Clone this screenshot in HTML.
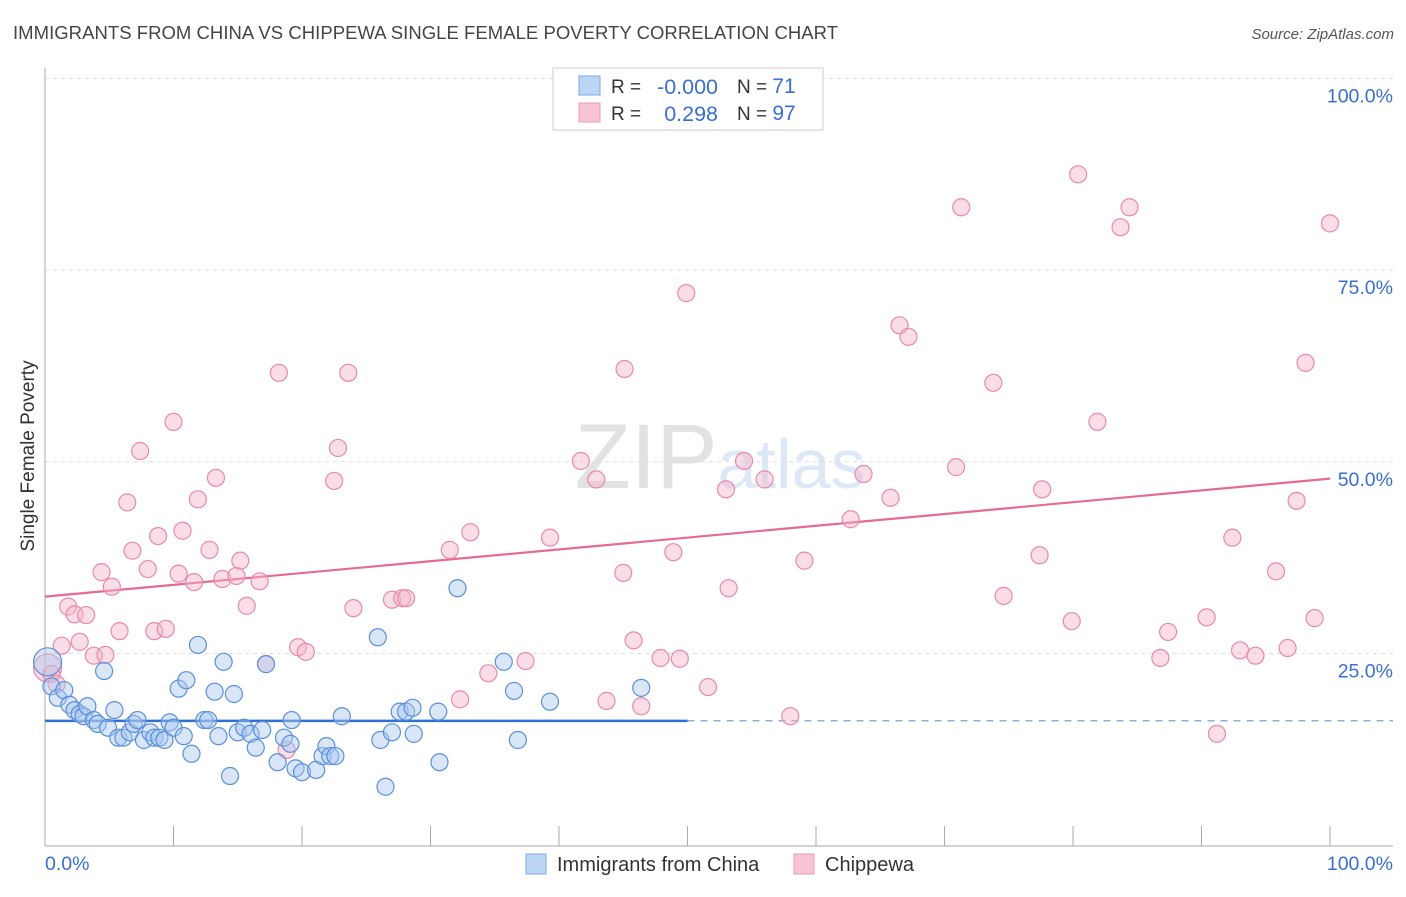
<!DOCTYPE html>
<html><head><meta charset="utf-8"><style>
body{margin:0;background:#fff;font-family:"Liberation Sans",sans-serif;}
svg text{font-family:"Liberation Sans",sans-serif;}
</style></head><body>
<svg id="chart" width="1406" height="892" xmlns="http://www.w3.org/2000/svg">
<text x="13" y="39" font-size="18.5" fill="#444" textLength="825">IMMIGRANTS FROM CHINA VS CHIPPEWA SINGLE FEMALE POVERTY CORRELATION CHART</text>
<text x="1394" y="39" font-size="15" fill="#555" text-anchor="end" font-style="italic">Source: ZipAtlas.com</text>
<text x="720" y="488" font-size="92" fill="#e4e4e4" text-anchor="middle" font-family="Liberation Serif"><tspan fill="#e2e2e2">ZIP</tspan><tspan fill="#dce8f6" font-family="Liberation Sans" font-size="70">atlas</tspan></text>
<g id="grid"></g>
<g id="axes"></g>
<g id="trend"></g>
<g id="pts"></g>
<text transform="translate(34,456) rotate(-90)" font-size="19" fill="#333" text-anchor="middle">Single Female Poverty</text>
<g>
<rect x="553" y="68" width="270" height="62" fill="#fff" stroke="#ccc"/>
<rect x="579" y="76" width="21" height="19" fill="#bcd5f5" stroke="#7aa7e3"/>
<rect x="579" y="103" width="21" height="19" fill="#f7c5d5" stroke="#ec9ab5"/>
<text x="611" y="93" font-size="19" fill="#333">R = </text>
<text x="718" y="94" font-size="21.5" fill="#3a6fd0" text-anchor="end">-0.000</text>
<text x="737" y="93" font-size="19" fill="#333">N = <tspan fill="#3a6fd0" font-size="21">71</tspan></text>
<text x="611" y="120" font-size="19" fill="#333">R = </text>
<text x="718" y="121" font-size="21.5" fill="#3a6fd0" text-anchor="end">0.298</text>
<text x="737" y="120" font-size="19" fill="#333">N = <tspan fill="#3a6fd0" font-size="21">97</tspan></text>
</g>
<g>
<rect x="526" y="854" width="20" height="20" fill="#bcd5f5" stroke="#7aa7e3"/>
<text x="557" y="871" font-size="20" fill="#333">Immigrants from China</text>
<rect x="794" y="854" width="20" height="20" fill="#f7c5d5" stroke="#ec9ab5"/>
<text x="825" y="871" font-size="20" fill="#333">Chippewa</text>
</g>
</svg>
<script>
const yTicks=[25,50,75,100];
const yTickLabels=["25.0%","50.0%","75.0%","100.0%"];
const xTickLabels=["0.0%","100.0%"];
const chinaX=[0.2,0.5,1.0,1.5,1.9,2.3,2.7,3.0,3.3,3.8,4.1,4.6,4.9,5.4,5.7,6.1,6.6,6.9,7.2,7.7,8.2,8.5,8.9,9.3,9.7,10.0,10.4,10.8,11.0,11.4,11.9,12.4,12.7,13.2,13.5,13.9,14.4,14.7,15.0,15.5,16.0,16.4,16.9,17.2,18.1,18.6,19.1,19.2,19.5,20.0,21.1,21.6,21.9,22.2,22.6,23.1,25.9,26.1,26.5,27.0,27.6,28.1,28.6,28.7,30.6,30.7,32.1,35.7,36.5,36.8,39.3,46.4];
const chinaY=[23.9,20.7,19.2,20.2,18.3,17.6,17.1,16.8,18.1,16.3,15.8,22.7,15.3,17.6,14.0,14.0,14.7,15.8,16.3,13.7,14.7,14.0,14.0,13.7,16.0,15.3,20.4,14.2,21.5,11.9,26.1,16.3,16.3,20.0,14.2,23.9,9.0,19.7,14.7,15.3,14.5,12.7,15.0,23.6,10.8,14.0,13.2,16.3,10.0,9.5,9.8,11.6,12.9,11.6,11.6,16.8,27.1,13.7,7.6,14.7,17.4,17.4,17.9,14.5,17.4,10.8,33.5,23.9,20.1,13.7,18.7,20.5];
const chipX=[0.2,0.5,0.9,1.3,1.8,2.3,2.7,3.2,3.8,4.4,4.7,5.2,5.8,6.4,6.8,7.4,8.0,8.5,8.8,9.4,10.0,10.4,10.7,11.6,11.9,12.8,13.3,13.8,14.9,15.2,15.7,16.7,17.2,18.2,18.8,19.7,20.3,22.5,22.8,23.6,24.0,27.0,27.8,28.1,31.5,32.3,33.1,34.5,37.4,39.3,41.7,42.9,43.7,45.0,45.1,45.8,46.4,47.9,48.9,49.4,49.9,51.6,53.0,53.2,54.4,56.0,58.0,59.1,62.7,63.7,65.8,66.5,67.2,70.9,71.3,73.8,74.6,77.4,77.6,79.9,80.4,81.9,83.7,84.4,86.8,87.4,90.4,91.2,92.4,93.0,94.2,95.8,96.7,97.4,98.1,98.8,100];
const chipY=[23.1,22.3,21.0,26.0,31.1,30.1,26.5,30.0,24.7,35.6,24.8,33.7,27.9,44.7,38.4,51.4,36.0,27.9,40.3,28.2,55.2,35.4,41.0,34.3,45.1,38.5,47.9,34.7,35.1,37.1,31.2,34.4,23.6,61.6,12.4,25.8,25.2,47.5,51.8,61.6,30.9,32.0,32.2,32.2,38.5,19.0,40.8,22.4,24.0,40.1,50.1,47.7,18.8,35.5,62.1,26.7,18.1,24.4,38.2,24.3,72.0,20.6,46.4,33.5,50.1,47.7,16.8,37.1,42.5,48.4,45.3,67.8,66.3,49.3,83.2,60.3,32.5,37.8,46.4,29.2,87.5,55.2,80.6,83.2,24.4,27.8,29.7,14.5,40.1,25.4,24.7,35.7,25.7,44.9,62.9,29.6,81.1];
const chinaTrend=[16.2,16.2];
const chipTrend=[32.4,47.8];
const NS="http://www.w3.org/2000/svg";
const sx=v=>45+v*12.85, sy=v=>845-v*7.665;
function mk(tag,attrs,parent){const e=document.createElementNS(NS,tag);for(const k in attrs)e.setAttribute(k,attrs[k]);document.getElementById(parent).appendChild(e);return e;}
yTicks.forEach((t,i)=>{
 const g=mk('line',{x1:45,x2:1393,y1:sy(t),y2:sy(t),stroke:'#ddd','stroke-dasharray':'4,4'},'grid');
 
 
 const l=mk('text',{x:1393,y:sy(t)+24,'font-size':19.5,fill:'#3a6fd0','text-anchor':'end'},'grid');
 l.textContent=yTickLabels[i];
 
 
});
const ax=mk('line',{x1:45,x2:45,y1:68,y2:846,stroke:'#aaa'},'axes');


const bx=mk('line',{x1:45,x2:1393,y1:846,y2:846,stroke:'#aaa'},'axes');


for(let i=0;i<=10;i++){const t=mk('line',{x1:sx(i*10),x2:sx(i*10),y1:826,y2:846,stroke:'#aaa'},'axes');
 
 }
[[0,'start',45],[100,'end',1393]].forEach((d,i)=>{const t=mk('text',{x:d[2],y:870,'font-size':19.5,fill:'#3a6fd0','text-anchor':d[1]},'axes');t.textContent=xTickLabels[i];
 
 });
function dots(X,Y,fill,stroke,name){X.forEach((x,i)=>{const c=mk('circle',{cx:sx(x),cy:sy(Y[i]),r:i==0?14:8.5,fill:fill,'fill-opacity':0.45,stroke:stroke,'stroke-width':1.2},'pts');
 
 });}
dots(chipX,chipY,'#f4b4c9','#e98aab','chippewa-point');
dots(chinaX,chinaY,'#a9c8f0','#5b8fdb','china-point');
const t1=mk('line',{x1:sx(0),y1:sy(chinaTrend[0]),x2:sx(50),y2:sy(chinaTrend[0]+(chinaTrend[1]-chinaTrend[0])/2),stroke:'#2f6fd6','stroke-width':2.5},'trend');


const t2=mk('line',{x1:sx(50),y1:sy(chinaTrend[0]+(chinaTrend[1]-chinaTrend[0])/2),x2:1393,y2:sy(chinaTrend[1]),stroke:'#6a95cc','stroke-width':1.2,'stroke-dasharray':'7,6'},'trend');


const t3=mk('line',{x1:sx(0),y1:sy(chipTrend[0]),x2:sx(100),y2:sy(chipTrend[1]),stroke:'#e56b95','stroke-width':2.2},'trend');


</script>
</body></html>
